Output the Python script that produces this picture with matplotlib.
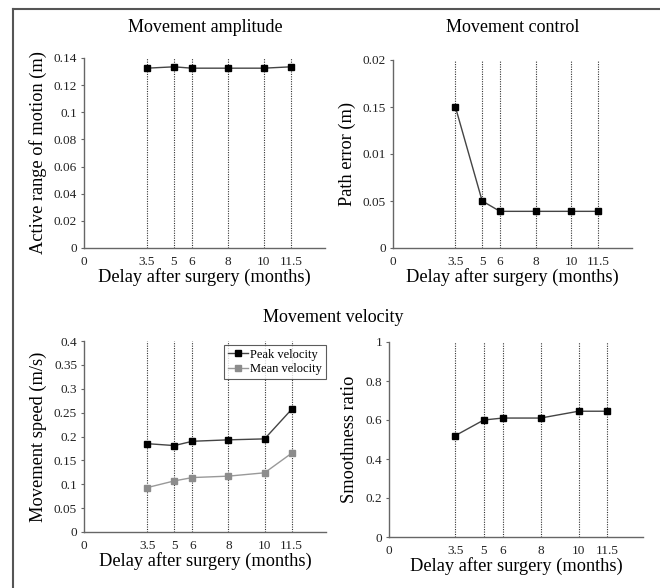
import numpy as np
import matplotlib.pyplot as plt
from matplotlib import rcParams
from matplotlib.lines import Line2D

config = {
    "font.family": ['Liberation Serif', 'DejaVu Serif'],
    "font.size": 12,
    "mathtext.fontset": 'stix',
}
rcParams.update(config)

# data
months = [3.5, 5, 6, 8, 10, 11.5]
month_labels = ['0', '3.5', '5', '6', '8', '10', '11.5']
amplitude = [0.1325, 0.1335, 0.1325, 0.1325, 0.1325, 0.1335]
path_error = [0.150, 0.050, 0.039, 0.039, 0.039, 0.039]
peak_vel = [0.185, 0.181, 0.190, 0.193, 0.195, 0.257]
mean_vel = [0.093, 0.107, 0.114, 0.117, 0.124, 0.165]
smoothness = [0.52, 0.60, 0.61, 0.61, 0.645, 0.645]

W, H = 660, 588
fig = plt.figure(figsize=(6.6, 5.88), dpi=100)


def make_ax(l, r, t, b):
    return fig.add_axes([l / W, 1 - b / H, (r - l) / W, (b - t) / H])


def style(ax, ylim, yticks, ylabels, ylabel):
    ax.set_xlim(0, 13.4)
    ax.set_ylim(*ylim)
    for m in months:
        ax.axvline(m, color='#333333', ls=(0, (1, 1.2)), lw=0.8, zorder=1)
    ax.set_xticks([0] + months)
    ax.set_xticklabels(month_labels)
    ax.set_yticks(yticks)
    ax.set_yticklabels(ylabels)
    for s in ['top', 'right']:
        ax.spines[s].set_visible(False)
    for s in ['left', 'bottom']:
        ax.spines[s].set_color('#666666')
        ax.spines[s].set_linewidth(1.0)
    ax.tick_params(axis='x', labelsize=9.5, length=0, pad=6, colors='#222222')
    ax.tick_params(axis='y', labelsize=9.5, length=2, pad=3, color='#666666',
                   labelcolor='#222222')
    ax.set_xlabel('Delay after surgery (months)', fontsize=13.2, labelpad=0)
    ax.set_ylabel(ylabel, fontsize=13.2, labelpad=5)


# Movement amplitude
ax1 = make_ax(84, 325, 58, 248)
ax1.plot(months, amplitude, color='#444444', lw=1, marker='s', ms=5,
         mfc='black', mec='black', zorder=3)
yt = np.arange(0, 0.141, 0.02)
style(ax1, (0, 0.14), yt, ['0', '0.02', '0.04', '0.06', '0.08', '0.1', '0.12', '0.14'],
      'Active range of motion (m)')

# Movement control
ax2 = make_ax(393, 632, 60, 248)
ax2.plot(months, path_error, color='#444444', lw=1, marker='s', ms=5,
         mfc='black', mec='black', zorder=3)
style(ax2, (0, 0.2), [0, 0.05, 0.1, 0.15, 0.2], ['0', '0.05', '0.01', '0.15', '0.02'],
      'Path error (m)')

# Movement velocity
ax3 = make_ax(84, 326, 341, 532)
ax3.plot(months, peak_vel, color='#444444', lw=1, marker='s', ms=5,
         mfc='black', mec='black', zorder=3, label='Peak velocity')
ax3.plot(months, mean_vel, color='#999999', lw=1, marker='s', ms=5,
         mfc='#8c8c8c', mec='#8c8c8c', zorder=3, label='Mean velocity')
style(ax3, (0, 0.4), np.arange(0, 0.41, 0.05),
      ['0', '0.05', '0.1', '0.15', '0.2', '0.25', '0.3', '0.35', '0.4'],
      'Movement speed (m/s)')
leg = ax3.legend(loc='upper right', bbox_to_anchor=(1.0, 0.98), fontsize=9,
                 frameon=True, fancybox=False, edgecolor='#333333',
                 handlelength=1.6, handletextpad=0.2, borderpad=0.3,
                 labelspacing=0.2, borderaxespad=0.0)
leg.get_frame().set_linewidth(0.8)

# Smoothness
ax4 = make_ax(389, 643, 342, 537)
ax4.plot(months, smoothness, color='#444444', lw=1, marker='s', ms=5,
         mfc='black', mec='black', zorder=3)
style(ax4, (0, 1), [0, 0.2, 0.4, 0.6, 0.8, 1], ['0', '0.2', '0.4', '0.6', '0.8', '1'],
      'Smoothness ratio')

# titles
fig.text(205 / W, 1 - 27 / H, 'Movement amplitude', ha='center', va='center', fontsize=13)
fig.text(513 / W, 1 - 27 / H, 'Movement control', ha='center', va='center', fontsize=13)
fig.text(333 / W, 1 - 317 / H, 'Movement velocity', ha='center', va='center', fontsize=13)

# border
fig.add_artist(Line2D([13 / W, 13 / W], [0, 1 - 9 / H], transform=fig.transFigure,
                      color='#555555', lw=1.5))
fig.add_artist(Line2D([13 / W, 1], [1 - 9 / H, 1 - 9 / H], transform=fig.transFigure,
                      color='#555555', lw=1.5))

fig.savefig('out.png', dpi=100)
